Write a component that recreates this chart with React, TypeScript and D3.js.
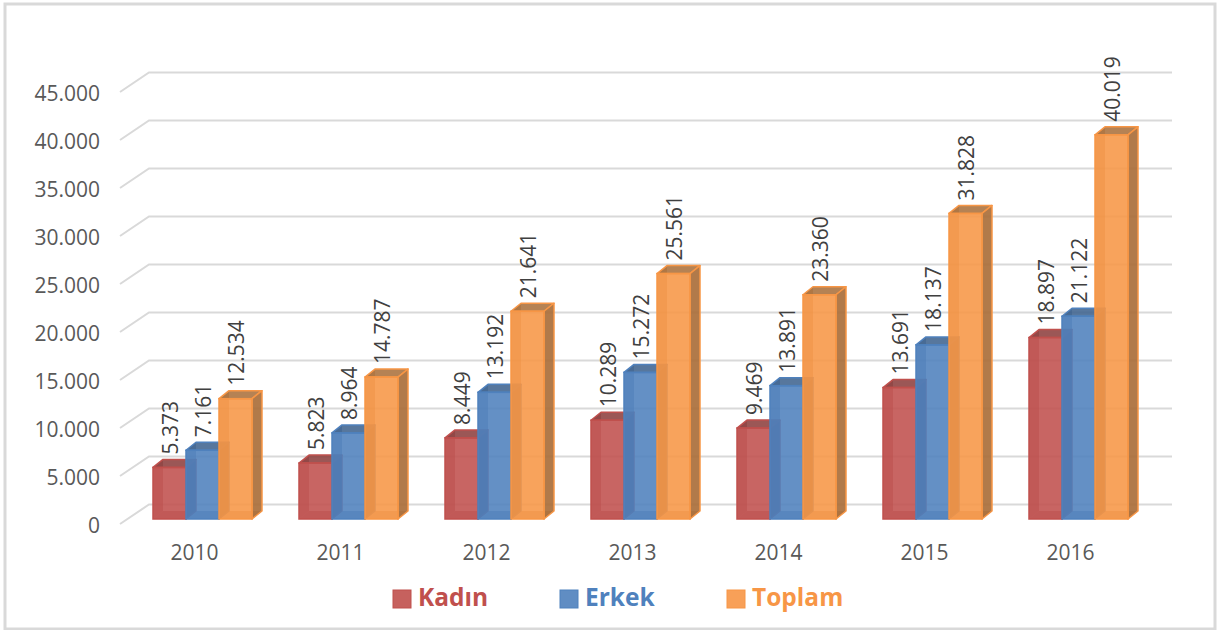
import React from "react";
import * as d3 from "d3";

const years = ["2010", "2011", "2012", "2013", "2014", "2015", "2016"];
const kadin = [5373, 5823, 8449, 10289, 9469, 13691, 18897];
const erkek = [7161, 8964, 13192, 15272, 13891, 18137, 21122];
const toplam = [12534, 14787, 21641, 25561, 23360, 31828, 40019];
const ticks = [0, 5000, 10000, 15000, 20000, 25000, 30000, 35000, 40000, 45000];
const seriesNames = ["Kadın", "Erkek", "Toplam"];
const seriesValues = [kadin, erkek, toplam];
const colors = ["#c0504d", "#4f81bd", "#f79646"];
const darkSide = ["#8a3a38", "#3a5f8c", "#a86c36"];
const legendX = [393, 560, 727];

const W = 1219, H = 630;
const DX = 10, DY = 8;
const y = d3.scaleLinear().domain([0, 45000]).range([519, 87]);
const x0 = d3.scaleBand().domain(years).range([129.5, 1151.5]);
const x1 = d3.scaleBand().domain(seriesNames).range([23.5, 122.5]);
const fmt = (v: number) => d3.format(",")(v).replace(/,/g, ".");
const font = "'Open Sans', sans-serif";

export default function App() {
  const gridL = 149, gridR = 1172, back = 14.5, diagX = 29;
  return (
    <svg width={W} height={H} style={{ position: "absolute", left: 0, top: 0, background: "#fff" }} fontFamily={font}>
      <rect x={5} y={4} width={1210} height={625} fill="#fff" stroke="#d9d9d9" strokeWidth={3} />
      {ticks.map(t => (
        <g key={t}>
          <polyline
            points={`${gridL - diagX},${y(t) + 5} ${gridL},${y(t) - back} ${gridR},${y(t) - back}`}
            fill="none" stroke="#d9d9d9" strokeWidth={2} />
          <text x={100} y={y(t) + 14} textAnchor="end" fontSize={21} fill="#595959">{t === 0 ? "0" : fmt(t)}</text>
        </g>
      ))}
      {years.map((yr, i) => (
        <g key={yr}>
          {seriesNames.map((s, k) => {
            const v = seriesValues[k][i];
            const L = x0(yr)! + x1(s)!;
            const w = x1.bandwidth();
            const R = L + w, T = y(v), B = y(0);
            return (
              <g key={s}>
                <polygon points={`${L},${B} ${L + DX},${B - DY} ${L + DX},${T - DY} ${L},${T}`} fill={darkSide[k]} fillOpacity={0.5} />
                <polygon points={`${L},${B} ${R},${B} ${R + DX},${B - DY} ${L + DX},${B - DY}`} fill={darkSide[k]} fillOpacity={0.5} />
                <polygon points={`${L},${T} ${R},${T} ${R + DX},${T - DY} ${L + DX},${T - DY}`} fill={darkSide[k]} fillOpacity={0.85} stroke={colors[k]} strokeWidth={1.5} strokeLinejoin="round" />
                <polygon points={`${R},${T} ${R + DX},${T - DY} ${R + DX},${B - DY} ${R},${B}`} fill={darkSide[k]} fillOpacity={0.9} stroke={colors[k]} strokeWidth={1.5} strokeLinejoin="round" />
                <rect x={L} y={T} width={w} height={B - T} fill={colors[k]} fillOpacity={0.88} stroke={colors[k]} strokeWidth={1.5} />
              </g>
            );
          })}
        </g>
      ))}
      {years.map((yr, i) => (
        <g key={yr}>
          {seriesNames.map((s, k) => {
            const v = seriesValues[k][i];
            const cx = x0(yr)! + x1(s)! + x1.bandwidth() / 2 + 1;
            const ty = y(v) - 13;
            return (
              <text key={s} transform={`translate(${cx + 7},${ty}) rotate(-90)`} fontSize={21} fill="#404040">{fmt(v)}</text>
            );
          })}
          <text x={x0(yr)! + x0.bandwidth() / 2 - 8} y={560} textAnchor="middle" fontSize={21} fill="#595959">{yr}</text>
        </g>
      ))}
      {seriesNames.map((s, k) => (
        <g key={s}>
          <rect x={legendX[k]} y={590} width={18} height={18} fill={colors[k]} fillOpacity={0.9} stroke={colors[k]} strokeWidth={1} />
          <text x={legendX[k] + 25} y={606} fontSize={24.5} fontWeight={700} fill={colors[k]}>{s}</text>
        </g>
      ))}
    </svg>
  );
}
